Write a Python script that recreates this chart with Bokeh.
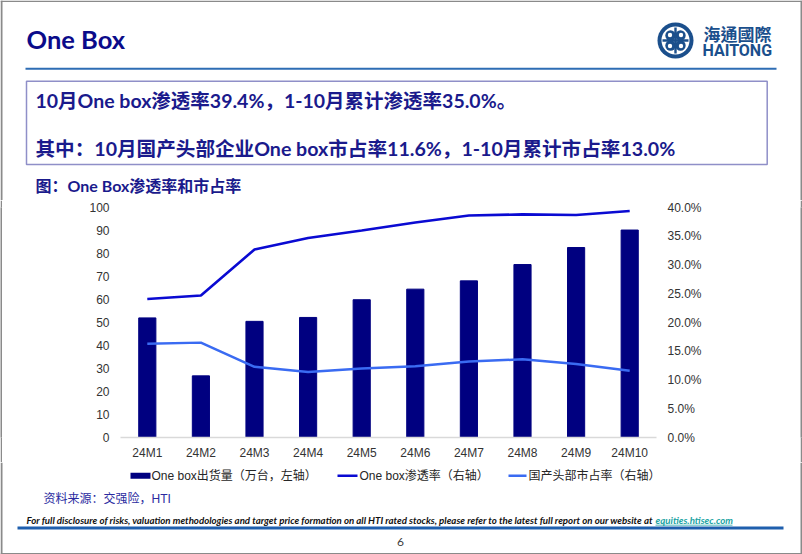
from bokeh.plotting import figure
from bokeh.layouts import column, row
from bokeh.models import (FactorRange, Range1d, LinearAxis, FixedTicker,
                          NumeralTickFormatter, ColumnDataSource)
from bokeh.core.properties import value
from bokeh.embed import file_html
from bokeh.resources import INLINE

# ---------------- data ----------------
months = ["24M1", "24M2", "24M3", "24M4", "24M5", "24M6", "24M7", "24M8", "24M9", "24M10"]
shipments = [52.0, 26.8, 50.5, 52.2, 59.9, 64.5, 68.1, 75.2, 82.6, 90.2]          # 万台
penetration = [0.241, 0.247, 0.327, 0.347, 0.360, 0.374, 0.386, 0.388, 0.387, 0.394]
domestic_share = [0.163, 0.165, 0.123, 0.114, 0.120, 0.124, 0.132, 0.136, 0.128, 0.116]
left_ticks = [0, 10, 20, 30, 40, 50, 60, 70, 80, 90, 100]
right_ticks = [0.0, 0.05, 0.10, 0.15, 0.20, 0.25, 0.30, 0.35, 0.40]
legend_labels = ["One box出货量（万台，左轴）", "One box渗透率（右轴）", "国产头部市占率（右轴）"]

W, H = 802, 554
HA, HB = 200, 262            # header / chart band heights; footer gets the rest
HC = H - HA - HB
FL, FR, FT, FB = 120, 656, 207, 437   # chart frame edges on the page
STRIP = 2

BAR = "#000080"
LINE1 = "#0A0AD2"
LINE2 = "#3A6BF2"
NAVY = "#0B0B8A"
TXT = "#1A1A8C"
GREY = "#8A8A8A"
CJK = "Lato, 'Noto Sans CJK SC'"
LEGFONT = "'Liberation Sans', 'Noto Sans CJK SC'"


def page_fig(w, h, y0):
    f = figure(width=w, height=h, x_range=Range1d(0, w), y_range=Range1d(y0 + h, y0),
               x_axis_location=None, y_axis_location=None, output_backend="svg",
               toolbar_location=None, min_border=0)
    f.min_border_left = f.min_border_right = f.min_border_top = f.min_border_bottom = 0
    f.outline_line_color = None
    f.grid.visible = False
    f.background_fill_color = "white"
    f.border_fill_color = "white"
    return f


def txt(f, x, y, s, font, size, color, style="normal", align="left"):
    f.text(x=[x], y=[y], text=[s], text_font=value(font), text_font_size=value(size),
           text_font_style=style, text_color=color, text_align=align,
           text_baseline="middle")


def box(f, l, r, t, b, fill=None, line=None, lw=1.0):
    f.quad(left=[l], right=[r], top=[t], bottom=[b],
           fill_color=fill, fill_alpha=1.0 if fill else 0.0,
           line_color=line, line_width=lw, line_alpha=1.0 if line else 0.0)


# ---------------- header ----------------
A = page_fig(W, HA, 0)
box(A, 0, W, 0, 1.5, fill=GREY)
box(A, 0, STRIP, 0, HA, fill=GREY)
box(A, W - STRIP, W, 0, HA, fill=GREY)
txt(A, 26, 38.5, "One Box", "Lato", "25.5px", NAVY, style="bold")
box(A, 25, 776, 67.3, 69.3, fill="#2E6DB4")

LOGO = "#1B4F8C"
A.circle(x=[675], y=[40], radius=18, fill_color=LOGO, line_color=None)
A.circle(x=[675], y=[40], radius=14, fill_color="white", line_color=None)
lx = [670, 680, 670, 680]
ly = [35, 35, 45, 45]
A.circle(x=lx, y=ly, radius=5.2, fill_color=LOGO, line_color=None)
A.circle(x=[669.5, 680.5, 669.5, 680.5], y=[34.5, 34.5, 45.5, 45.5], radius=2.2,
         fill_color="white", line_color=None)
box(A, 673.8, 676.2, 27, 53, fill=LOGO)
box(A, 662, 688, 38.8, 41.2, fill=LOGO)
txt(A, 703, 33, "海通國際", "Noto Sans CJK TC", "17px", LOGO, style="bold")
txt(A, 702, 50, "HAITONG", "Roboto", "16px", LOGO, style="bold")

box(A, 26, 766.7, 80.7, 164, line="#8F8FC8", lw=1.5)
txt(A, 35, 99.5, "10月One box渗透率39.4%，1-10月累计渗透率35.0%。", CJK, "19.5px", TXT, style="bold")
txt(A, 35, 147.5, "其中：10月国产头部企业One box市占率11.6%，1-10月累计市占率13.0%", CJK, "19.6px", TXT, style="bold")
txt(A, 35, 185, "图：One Box渗透率和市占率", CJK, "16px", TXT, style="bold")

# ---------------- chart ----------------
BW = W - 2 * STRIP
B = figure(width=BW, height=HB, x_range=FactorRange(*months, range_padding=0),
           y_range=Range1d(0, 100), output_backend="svg", toolbar_location=None,
           min_border_left=FL - STRIP, min_border_right=(W - STRIP) - FR,
           min_border_top=FT - HA, min_border_bottom=(HA + HB) - FB)
B.extra_y_ranges = {"pct": Range1d(0, 0.40)}
B.outline_line_color = None
B.xgrid.grid_line_color = None
B.ygrid.grid_line_color = None
B.background_fill_color = "white"
B.border_fill_color = "white"

src = ColumnDataSource(dict(m=months, s=shipments, pen=penetration, dom=domestic_share))
B.vbar(x="m", top="s", width=0.32, source=src, fill_color=BAR, line_color=BAR)
B.line(x="m", y="pen", source=src, y_range_name="pct", line_color=LINE1, line_width=2.6)
B.line(x="m", y="dom", source=src, y_range_name="pct", line_color=LINE2, line_width=2.5)

TICKFONT = "Liberation Sans"


def style_axis(ax, standoff):
    ax.major_tick_line_color = None
    ax.minor_tick_line_color = None
    ax.major_tick_out = 0
    ax.major_tick_in = 0
    ax.minor_tick_out = 0
    ax.minor_tick_in = 0
    ax.major_label_standoff = standoff
    ax.major_label_text_font = TICKFONT
    ax.major_label_text_font_size = "12px"
    ax.major_label_text_color = "#333333"


ya = B.yaxis[0]
ya.ticker = FixedTicker(ticks=left_ticks)
ya.axis_line_color = None
style_axis(ya, 11)

ra = LinearAxis(y_range_name="pct", ticker=FixedTicker(ticks=right_ticks),
                formatter=NumeralTickFormatter(format="0.0%"))
ra.axis_line_color = None
style_axis(ra, 11)
B.add_layout(ra, "right")

xa = B.xaxis[0]
xa.axis_line_color = "#D9D9D9"
xa.axis_line_width = 1.5
style_axis(xa, 8)


def strip():
    s = page_fig(STRIP, HB, HA)
    s.background_fill_color = GREY
    s.border_fill_color = GREY
    return s


# ---------------- footer ----------------
C = page_fig(W, HC, HA + HB)
y0 = HA + HB
box(C, 0, STRIP, y0, H, fill=GREY)
box(C, W - STRIP, W, y0, H, fill=GREY)
box(C, 0, W, H - 1.5, H, fill=GREY)

box(C, 130, 150, 472.3, 478.3, fill=BAR)
txt(C, 151, 475.5, legend_labels[0], LEGFONT, "12px", "#262626")
box(C, 337, 357, 474, 476.5, fill=LINE1)
txt(C, 359, 475.5, legend_labels[1], LEGFONT, "12px", "#262626")
box(C, 508, 526, 474, 476.5, fill=LINE2)
txt(C, 528, 475.5, legend_labels[2], LEGFONT, "12px", "#262626")

txt(C, 43, 498.5, "资料来源：交强险，HTI", LEGFONT, "12px", "#2A2AA0")
txt(C, 26, 519.5, "For full disclosure of risks, valuation methodologies and target price formation on all HTI rated stocks, please refer to the latest full report on our website at",
    "Lato", "9.7px", "#111111", style="bold italic")
txt(C, 655, 519.5, "equities.htisec.com", "Lato", "9.7px", "#1AA3A3", style="bold italic")
box(C, 655, 732, 524.3, 525.1, fill="#1AA3A3")
box(C, 17, 783, 526, 529, fill="#1F5FAD")
txt(C, 400, 541, "6", "Lato", "12px", "#404040", align="center")

layout = column(A, row(strip(), B, strip()), C)
open("out.html", "w").write(file_html(layout, INLINE))
